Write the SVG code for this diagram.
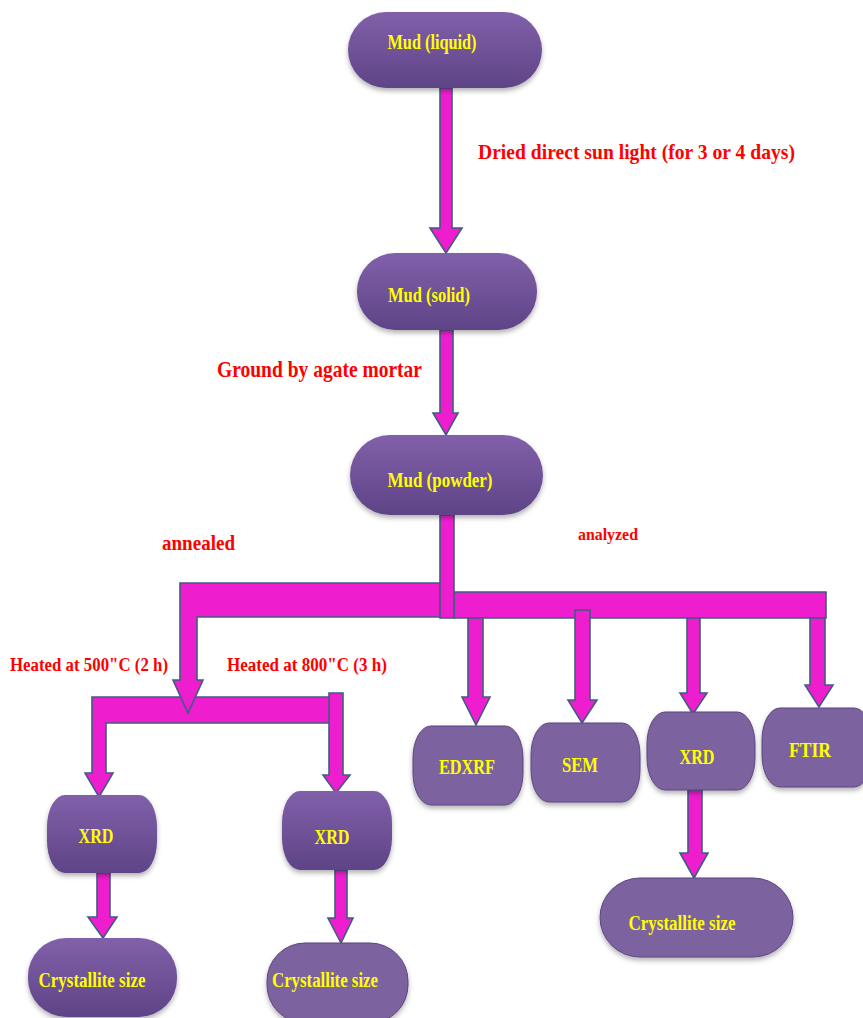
<svg xmlns="http://www.w3.org/2000/svg" width="863" height="1018" viewBox="0 0 863 1018">
<defs>
<linearGradient id="g" x1="0" y1="0" x2="0" y2="1">
<stop offset="0" stop-color="#8160AA"/>
<stop offset="1" stop-color="#5E4486"/>
</linearGradient>
<filter id="sh" x="-10%" y="-10%" width="120%" height="130%">
<feDropShadow dx="0" dy="3" stdDeviation="2.5" flood-color="#000" flood-opacity="0.3"/>
</filter>
</defs>
<style>
.n{fill:url(#g);filter:url(#sh)}
.f{fill:#7D62A0;stroke:#5A4580;stroke-width:1;filter:url(#sh)}
.t{font-family:"Liberation Serif",serif;font-weight:bold;font-size:22px;fill:#FFFF00;text-anchor:middle}
.c path{fill:#EE1ECF;stroke:#3F5C82;stroke-width:1.6;stroke-linejoin:miter}
.r{font-family:"Liberation Serif",serif;font-weight:bold;fill:#FF0000}
</style>
<rect width="863" height="1018" fill="#FFFFFF"/>
<g class="c" id="connectors">
<path d="M440,88 H452 V228 H462 L446,253 L430,228 H440 Z"/>
<path d="M440,330 H453 V413 H458 L446,435 L433,413 H440 Z"/>
<path d="M92,697 H330 V723 H106 V773 H113 L99,797 L85,773 H92 Z"/>
<path d="M329,693 H343 V775 H350 L336,793 L323,775 H329 Z"/>
<path d="M440,583 H180 V680 H173 L188,713 L203,680 H197 V617 H440 Z"/>
<path d="M454,592 H826 V618 H454 Z"/>
<path d="M440,515 H454 V618 H440 Z"/>
<path d="M468,618 H483 V697 H490 L476,725 L462,697 H468 Z"/>
<path d="M575,610 H590 V700 H597 L582,723 L568,700 H575 Z"/>
<path d="M687,618 H700 V693 H707 L693,714 L680,693 H687 Z"/>
<path d="M810,618 H825 V685 H833 L819,707 L805,685 H810 Z"/>
<path d="M97,873 H110 V917 H117 L103,938 L88,917 H97 Z"/>
<path d="M335,870 H347 V918 H353 L341,943 L328,918 H335 Z"/>
<path d="M688,790 H702 V853 H708 L694,878 L680,853 H688 Z"/>
</g>
<g id="mud-liquid"><rect class="n" x="348" y="12" width="194" height="76" rx="38"/><text class="t" x="432" y="49" textLength="89" lengthAdjust="spacingAndGlyphs">Mud (liquid)</text></g>
<g id="mud-solid"><rect class="n" x="357" y="253" width="180" height="77" rx="38"/><text class="t" x="429" y="302" textLength="82" lengthAdjust="spacingAndGlyphs">Mud (solid)</text></g>
<g id="mud-powder"><rect class="n" x="350" y="435" width="193" height="80" rx="40"/><text class="t" x="440" y="487" textLength="105" lengthAdjust="spacingAndGlyphs">Mud (powder)</text></g>
<g id="edxrf"><rect class="f" x="413" y="726" width="110" height="79" rx="18" ry="32"/><text class="t" x="467" y="774" textLength="56" lengthAdjust="spacingAndGlyphs">EDXRF</text></g>
<g id="sem"><rect class="f" x="531" y="723" width="109" height="79" rx="18" ry="32"/><text class="t" x="580" y="772" textLength="36" lengthAdjust="spacingAndGlyphs">SEM</text></g>
<g id="xrd-analyzed"><rect class="f" x="647" y="712" width="108" height="78" rx="18" ry="32"/><text class="t" x="697" y="764" textLength="35" lengthAdjust="spacingAndGlyphs">XRD</text></g>
<g id="ftir"><rect class="f" x="762" y="708" width="110" height="79" rx="18" ry="32"/><text class="t" x="810" y="757" textLength="42" lengthAdjust="spacingAndGlyphs">FTIR</text></g>
<g id="xrd-500"><rect class="n" x="47" y="795" width="110" height="78" rx="18" ry="32"/><text class="t" x="96" y="843" textLength="35" lengthAdjust="spacingAndGlyphs">XRD</text></g>
<g id="xrd-800"><rect class="n" x="282" y="791" width="110" height="79" rx="18" ry="32"/><text class="t" x="332" y="844" textLength="35" lengthAdjust="spacingAndGlyphs">XRD</text></g>
<g id="cryst-500"><rect class="n" x="28" y="938" width="149" height="79" rx="38"/><text class="t" x="92" y="987" textLength="107" lengthAdjust="spacingAndGlyphs">Crystallite size</text></g>
<g id="cryst-800"><rect class="f" x="267" y="943" width="141" height="80" rx="38"/><text class="t" x="325" y="987" textLength="106" lengthAdjust="spacingAndGlyphs">Crystallite size</text></g>
<g id="cryst-analyzed"><rect class="f" x="600" y="878" width="193" height="79" rx="40"/><text class="t" x="682" y="930" textLength="107" lengthAdjust="spacingAndGlyphs">Crystallite size</text></g>
<g id="labels">
<text class="r" x="478" y="159" font-size="21.5" textLength="317" lengthAdjust="spacingAndGlyphs">Dried direct sun light (for 3 or 4 days)</text>
<text class="r" x="217" y="377" font-size="24" textLength="205" lengthAdjust="spacingAndGlyphs">Ground by agate mortar</text>
<text class="r" x="162" y="550" font-size="20" textLength="73" lengthAdjust="spacingAndGlyphs">annealed</text>
<text class="r" x="578" y="540" font-size="16" textLength="60" lengthAdjust="spacingAndGlyphs">analyzed</text>
<text class="r" x="10" y="671" font-size="18" textLength="158" lengthAdjust="spacingAndGlyphs">Heated at 500"C (2 h)</text>
<text class="r" x="227" y="671" font-size="18" textLength="160" lengthAdjust="spacingAndGlyphs">Heated at 800"C (3 h)</text>
</g>
</svg>
